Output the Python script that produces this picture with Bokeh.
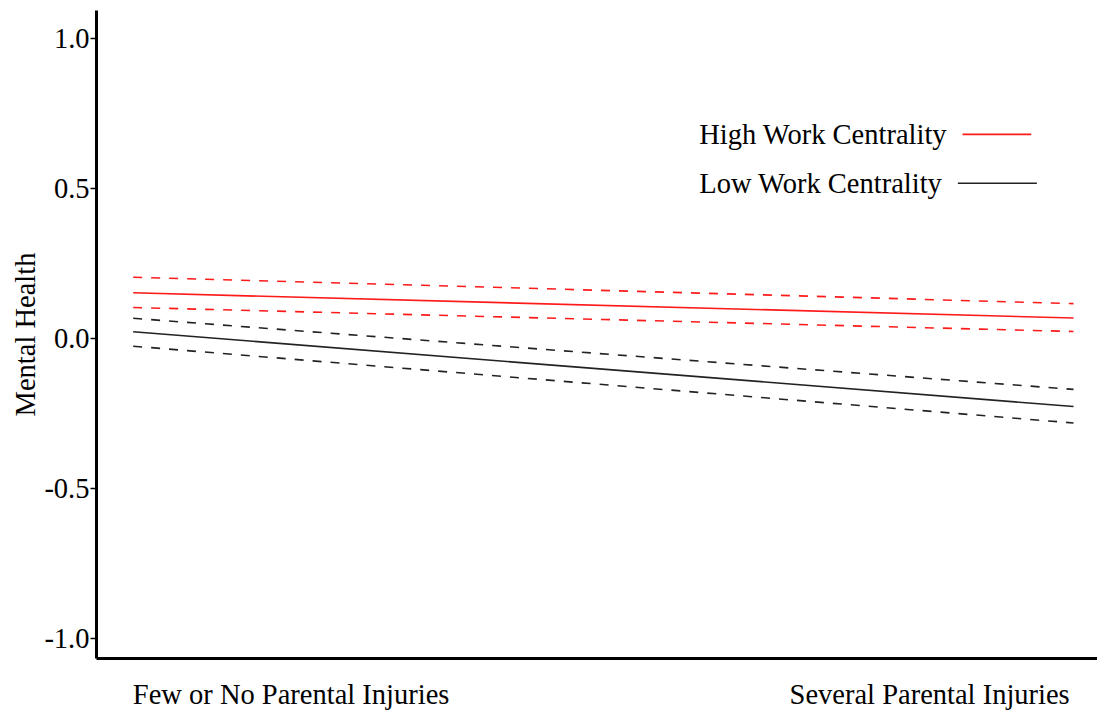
from bokeh.plotting import figure
from bokeh.models import Range1d, FixedTicker
from bokeh.core.properties import value
from bokeh.embed import file_html
from bokeh.resources import INLINE

# ---- data ----
x_levels = [0, 1]
category_labels = ["Few or No Parental Injuries", "Several Parental Injuries"]
high_mean = [0.152, 0.068]
high_upper = [0.204, 0.116]
high_lower = [0.103, 0.023]
low_mean = [0.022, -0.227]
low_upper = [0.067, -0.170]
low_lower = [-0.026, -0.282]
series_names = ["High Work Centrality", "Low Work Centrality"]
y_ticks = [-1.0, -0.5, 0.0, 0.5, 1.0]
y_tick_labels = ["-1.0", "-0.5", "0.0", "0.5", "1.0"]

FONT = "Liberation Serif"
FS = "28.5px"
RED = "#ff1a1a"
BLACK = "#222222"

p = figure(width=1097, height=714, output_backend="svg", toolbar_location=None,
           x_range=Range1d(-0.039, 1.0255), y_range=Range1d(-1.067, 1.093),
           min_border_left=96, min_border_right=0, min_border_top=10, min_border_bottom=56)
p.outline_line_color = None
p.xgrid.visible = False
p.ygrid.visible = False
p.background_fill_color = "white"
p.border_fill_color = "white"

# lines
p.line(x_levels, high_mean, line_color=RED, line_width=1.6)
p.line(x_levels, high_upper, line_color=RED, line_width=1.6, line_dash="9 9")
p.line(x_levels, high_lower, line_color=RED, line_width=1.6, line_dash="9 9")
p.line(x_levels, low_mean, line_color=BLACK, line_width=1.6)
p.line(x_levels, low_upper, line_color=BLACK, line_width=1.6, line_dash="9 9")
p.line(x_levels, low_lower, line_color=BLACK, line_width=1.6, line_dash="9 9")

# legend (manual: label then line sample)
leg_y = [0.68, 0.517]
leg_text_x = 0.602
p.text(x=[leg_text_x] * 2, y=leg_y, text=series_names,
       text_font=value(FONT), text_font_size=FS, text_baseline="middle",
       text_align="left", text_color="black")
p.segment(x0=[0.882, 0.877], y0=leg_y, x1=[0.955, 0.961], y1=leg_y,
          line_color=[RED, BLACK], line_width=1.6)

# y axis
ya = p.yaxis[0]
ya.ticker = FixedTicker(ticks=y_ticks)
ya.major_label_overrides = {t: l for t, l in zip(y_ticks, y_tick_labels)}
ya.axis_line_width = 3
ya.axis_line_color = "black"
ya.major_tick_out = 6
ya.major_tick_in = 0
ya.major_tick_line_width = 1.5
ya.minor_tick_line_color = None
ya.major_label_standoff = 1
ya.major_label_text_font = FONT
ya.major_label_text_font_size = FS
ya.major_label_text_color = "black"
ya.axis_label = "Mental Health"
ya.axis_label_text_font = FONT
ya.axis_label_text_font_size = FS
ya.axis_label_text_font_style = "normal"
ya.axis_label_text_color = "black"
ya.axis_label_standoff = 0

# x axis
label_pos = [0.168, 0.847]
xa = p.xaxis[0]
xa.ticker = FixedTicker(ticks=label_pos)
xa.major_label_overrides = {t: l for t, l in zip(label_pos, category_labels)}
xa.axis_line_width = 3
xa.axis_line_color = "black"
xa.major_tick_line_color = None
xa.major_tick_out = 0
xa.major_tick_in = 0
xa.minor_tick_line_color = None
xa.major_label_standoff = 20
xa.major_label_text_font = FONT
xa.major_label_text_font_size = FS
xa.major_label_text_color = "black"

open("out.html", "w").write(file_html(p, INLINE))
